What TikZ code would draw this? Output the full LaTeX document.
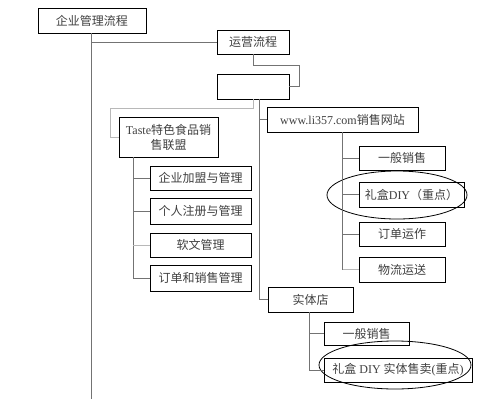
\documentclass[tikz,border=0pt]{standalone}
\usepackage{fontspec}
\setmainfont{Liberation Serif}
\newfontfamily\cjk{Noto Sans CJK SC}
\begin{document}
\begin{tikzpicture}[x=1pt,y=-1pt,
  box/.style={draw=black, line width=0.9pt, fill=white, inner sep=0pt, text=black!75,
     font=\fontsize{12}{15}\selectfont\cjk, align=center},
  conn/.style={draw=black!55, line width=0.8pt},
  lconn/.style={draw=black!28, line width=0.8pt},
  oval/.style={draw=black, line width=0.8pt}]
\useasboundingbox (0,0) rectangle (504,407);
% nodes
\node[box, minimum width=108pt, minimum height=25pt] (top) at (92,20.5) {企业管理流程};
\node[box, minimum width=72pt, minimum height=24pt] (yy) at (253,42) {运营流程};
\node[box, minimum width=72pt, minimum height=25pt] (empty) at (253,86.5) {};
\node[box, minimum width=99pt, minimum height=40pt] (taste) at (168.5,137) {{\rmfamily Taste}特色食品销\\售联盟};
\node[box, minimum width=101pt, minimum height=24pt] (a1) at (200.5,178) {企业加盟与管理};
\node[box, minimum width=101pt, minimum height=26pt] (a2) at (200.5,211) {个人注册与管理};
\node[box, minimum width=101pt, minimum height=24pt] (a3) at (200.5,245) {软文管理};
\node[box, minimum width=101pt, minimum height=26pt] (a4) at (200.5,278) {订单和销售管理};
\node[box, minimum width=151pt, minimum height=25pt] (www) at (342.5,119.5) {{\rmfamily www.li357.com}销售网站};
\node[box, minimum width=86pt, minimum height=24pt] (b1) at (402,158) {一般销售};
\node[box, minimum width=105pt, minimum height=25pt] (b2) at (411.5,194.5) {礼盒{\rmfamily DIY}（重点）};
\node[box, minimum width=86pt, minimum height=24pt] (b3) at (402,234) {订单运作};
\node[box, minimum width=86pt, minimum height=25pt] (b4) at (402,269.5) {物流运送};
\node[box, minimum width=85pt, minimum height=25pt] (shop) at (310.5,299.5) {实体店};
\node[box, minimum width=85pt, minimum height=23pt] (c1) at (366.5,333.5) {一般销售};
\node[box, minimum width=148pt, minimum height=24pt] (c2) at (398,370) {礼盒{\rmfamily\ DIY\ }实体售卖{\rmfamily (}重点{\rmfamily )}};
\coordinate (bottom) at (91,399);
% ellipses
\draw[oval] (397,195) ellipse [x radius=70pt, y radius=24pt];
\draw[oval] (395,365) ellipse [x radius=76pt, y radius=24pt];
% connectors
\draw[conn] (top.south -| bottom) -- (bottom);
\draw[conn] (bottom |- yy.west) -- (yy.west);
\draw[conn] (yy.south) -- ++(0,11) -| (299,0 |- empty.east) -- (empty.east);
\draw[lconn] (empty.south) -- ++(0,9) -| (110,0 |- taste.west) -- (taste.west);
\coordinate (ev) at ([xshift=6pt]empty.south);
\draw[conn] (ev) |- (shop.west);
\draw[conn] (ev |- www.west) -- (www.west);
% taste children
\coordinate (tv) at ([xshift=-35.5pt]taste.south);
\draw[conn] (tv) |- (a4.west);
\draw[conn] (tv |- a1.west) -- (a1.west);
\draw[conn] (tv |- a2.west) -- (a2.west);
\draw[lconn] (tv |- a3.west) -- (a3.west);
% www children
\draw[conn] (www.south) -- (www.south |- b4.west);
\draw[lconn] (www.south |- b4.west) -- (b4.west);
\draw[conn] (www.south |- b1.west) -- (b1.west);
\draw[conn] (www.south |- b2.west) -- (b2.west);
\draw[conn] (www.south |- b3.west) -- (b3.west);
% shop children
\coordinate (sv) at ([xshift=-1.5pt]shop.south);
\draw[conn] (sv) |- (c2.west);
\draw[conn] (sv |- c1.west) -- (c1.west);
\end{tikzpicture}
\end{document}
